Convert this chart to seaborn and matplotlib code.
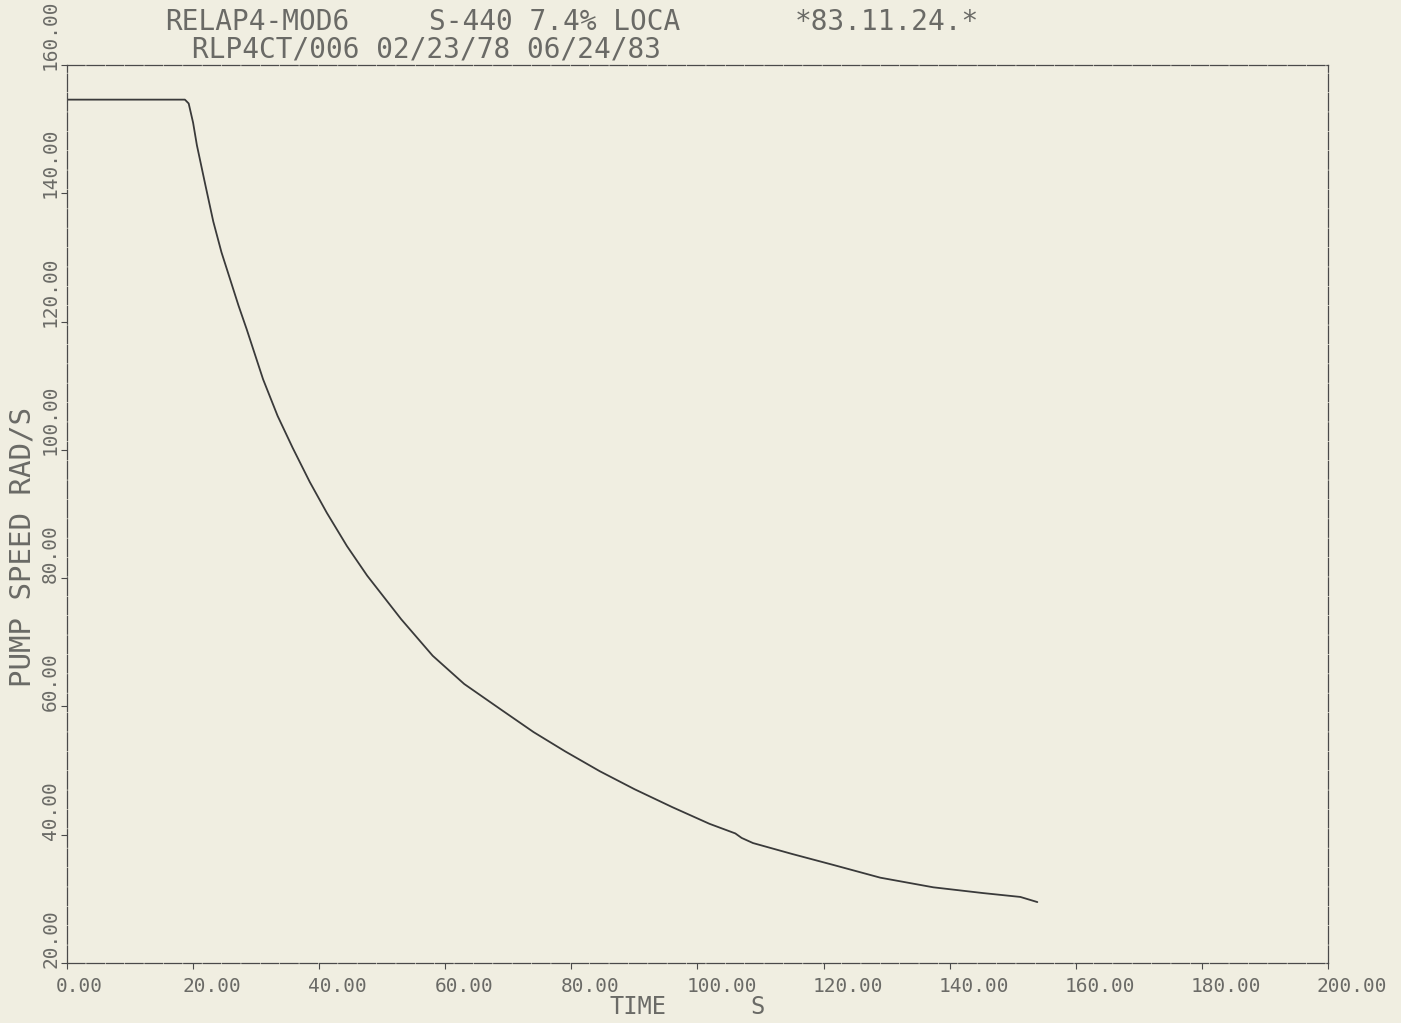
import numpy as np
import pandas as pd
import seaborn as sns
import matplotlib.pyplot as plt
import matplotlib.transforms as mtransforms

# values
time_s = [0, 18.7, 19.3, 20.0, 20.6, 21.9, 23.2, 24.5, 25.9, 27.2, 28.5, 29.8, 31.1,
          33.4, 35.8, 38.5, 41.2, 44.4, 47.6, 53.0, 58.0, 63.0, 68.7, 74.0, 79.0,
          84.5, 90.0, 96.0, 101.9, 106.0, 107.0, 108.8, 115.0, 121.5, 129.0, 137.4,
          145.3, 151.2, 153.9]
pump_speed = [154.6, 154.6, 154.0, 151.0, 147.5, 141.5, 135.6, 130.8, 126.5, 122.5,
              118.8, 114.9, 111.0, 105.3, 100.3, 95.0, 90.2, 85.0, 80.4, 73.6, 67.9,
              63.5, 59.6, 56.0, 53.0, 49.9, 47.1, 44.3, 41.7, 40.2, 39.5, 38.7, 37.0,
              35.3, 33.3, 31.8, 30.9, 30.3, 29.5]

x_ticks = [0, 20, 40, 60, 80, 100, 120, 140, 160, 180, 200]
y_ticks = [20, 40, 60, 80, 100, 120, 140, 160]

title_1 = ["RELAP4-MOD6", "S-440 7.4% LOCA", "*83.11.24.*"]
title_2 = "RLP4CT/006 02/23/78 06/24/83"

df = pd.DataFrame({"time": time_s, "speed": pump_speed})

sns.set_theme(style="ticks")
plt.rcParams["font.family"] = ["DejaVu Sans Mono"]

paper = "#f0eee1"
ink = "#3a3a3a"
txt = "#6a6a66"

W, H = 1401, 1023
fig = plt.figure(figsize=(W / 100, H / 100), dpi=100, facecolor=paper)
ax = fig.add_axes([67 / W, (H - 963) / H, (1328 - 67) / W, (963 - 65) / H])
ax.set_facecolor(paper)

sns.lineplot(data=df, x="time", y="speed", ax=ax, color=ink, linewidth=1.3, sort=False)

ax.set_xlim(0, 200)
ax.set_ylim(20, 160)
ax.set_xticks(x_ticks)
ax.set_yticks(y_ticks)
ax.set_xticklabels([f"{v:.2f}" for v in x_ticks])
ax.set_yticklabels([f"{v:.2f}" for v in y_ticks])
ax.set_xlabel("")
ax.set_ylabel("")

for side in ["left", "right", "top", "bottom"]:
    ax.spines[side].set_visible(True)
    ax.spines[side].set_color("#4a4a4a")
    ax.spines[side].set_linewidth(0.9)
    ax.spines[side].set_linestyle((0, (14, 1.5)))

ax.tick_params(axis="both", direction="out", length=4, width=0.8, color="#4a4a4a",
               labelsize=14, labelcolor=txt)
ax.tick_params(axis="x", pad=6)
ax.tick_params(axis="y", pad=1, labelrotation=90)

# old plotter put labels starting just before the tick
for lab in ax.get_xticklabels():
    lab.set_horizontalalignment("left")
    lab.set_transform(lab.get_transform() +
                      mtransforms.ScaledTranslation(-11 / 100, 0, fig.dpi_scale_trans))
for lab in ax.get_yticklabels():
    lab.set_verticalalignment("bottom")
    lab.set_horizontalalignment("right")
    lab.set_transform(lab.get_transform() +
                      mtransforms.ScaledTranslation(0, -5 / 100, fig.dpi_scale_trans))

# header lines
for s, x in zip(title_1, [165, 429, 795]):
    fig.text(x / W, 1 - 22 / H, s, ha="left", va="center", fontsize=20, color=txt)
fig.text(192 / W, 1 - 49 / H, title_2, ha="left", va="center", fontsize=20, color=txt)

# axis titles
fig.text(609 / W, 1 - 1007 / H, "TIME", ha="left", va="center", fontsize=17, color=txt)
fig.text(750 / W, 1 - 1007 / H, "S", ha="left", va="center", fontsize=17, color=txt)
fig.text(23 / W, 1 - 547 / H, "PUMP SPEED RAD/S", ha="center", va="center",
         rotation=90, fontsize=21, color=txt)

fig.savefig("out.png", dpi=100, facecolor=paper)
